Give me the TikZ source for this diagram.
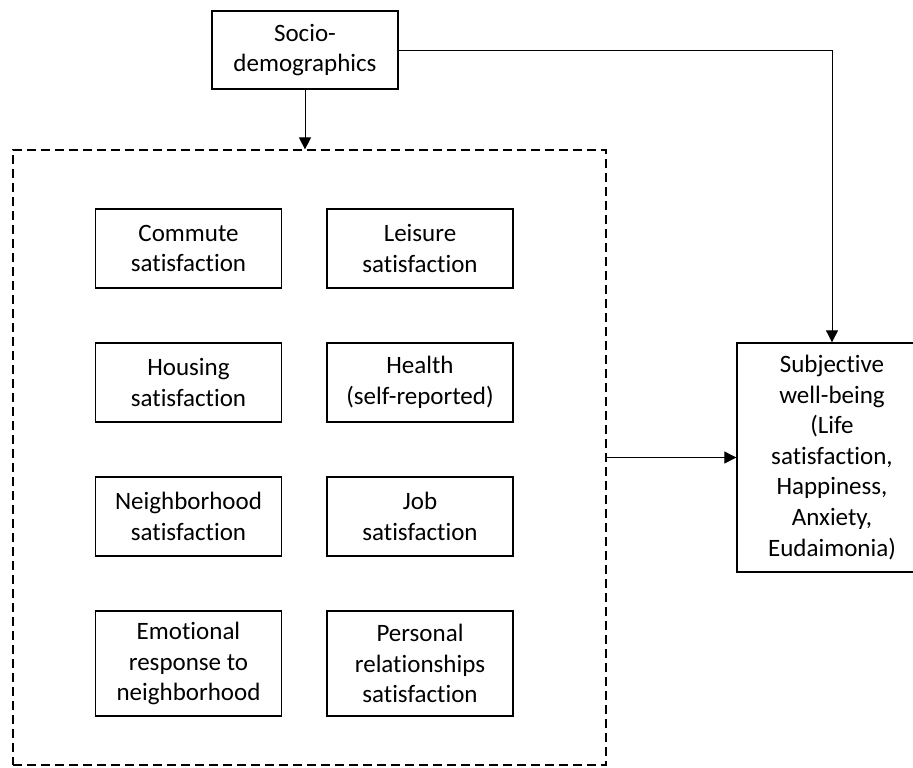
\documentclass[tikz,border=0pt]{standalone}
\usepackage{fontspec}
\setmainfont{Carlito}[Ligatures=NoCommon]
\usetikzlibrary{arrows.meta}

\begin{document}
\begin{tikzpicture}[x=0.75pt,y=-0.75pt,
    >={Triangle[length=9pt,width=9pt]},
    box/.style={draw,line width=1pt,align=center,inner sep=0pt,
      minimum width=139.5pt,minimum height=59.25pt,
      font=\fontsize{18.75}{22.9}\selectfont},
    tallbox/.style={box,minimum height=78.75pt},
    link/.style={->,line width=0.7pt}]
			\useasboundingbox (0,0) rectangle (913,767);
			\node[box,minimum height=58.5pt] (socio) at (305,50) {Socio-\\demographics};
			\node[draw,line width=0.9pt,dash pattern=on 6.75pt off 3.75pt,
			  minimum width=444.75pt,minimum height=461.25pt] (factors) at (309.5,457.5) {};
			\node[box] (commute) at (188.5,248.5) {Commute\\satisfaction};
			\node[box] (leisure) at (420,248.5) {Leisure\\satisfaction};
			\node[box] (housing) at (188.5,382.5) {Housing\\satisfaction};
			\node[box] (health) at (420,382.5) {Health\\(self-reported)};
			\node[box] (neighborhood) at (188.5,516.5) {Neighborhood\\satisfaction};
			\node[box] (job) at (420,516.5) {Job\\satisfaction};
			\node[tallbox] (emotional) at (188.5,663.5) {Emotional\\response to\\neighborhood};
			\node[tallbox] (personal) at (420,663.5) {Personal\\relationships\\satisfaction};
			\node[box,minimum width=142.5pt,minimum height=171.75pt] (wellbeing) at (832,457.5)
			  {Subjective\\well-being\\(Life\\satisfaction,\\Happiness,\\Anxiety,\\Eudaimonia)};
			\draw[link] (socio.south) -- (socio.south |- factors.north);
			\draw[link] (socio.east) -| (wellbeing.north);
			\draw[link] (factors.east) -- (wellbeing.west);
		\end{tikzpicture}
\end{document}
